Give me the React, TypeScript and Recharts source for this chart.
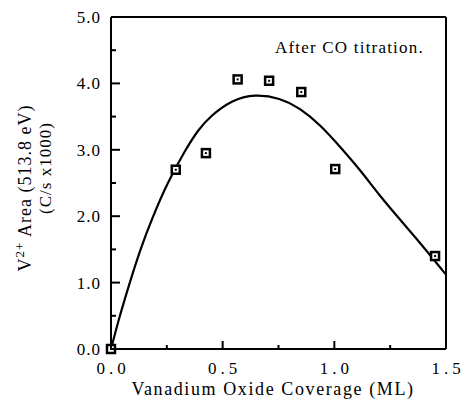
import React from "react";
import {
    ComposedChart, Line, Scatter, XAxis, YAxis, CartesianGrid,
} from "recharts";

// measured points (coverage ML, V2+ area)
const coverage = [0, 0.29, 0.425, 0.567, 0.708, 0.852, 1.004, 1.451];
const area = [0, 2.7, 2.95, 4.06, 4.04, 3.87, 2.71, 1.4];

// fitted curve
const curveX = [0, 0.039, 0.084, 0.131, 0.188, 0.252, 0.333, 0.39, 0.443, 0.54, 0.645, 0.757, 0.846, 0.936, 1.025, 1.115, 1.205, 1.294, 1.384, 1.5];
const curveY = [0, 0.5, 1.0, 1.5, 2.0, 2.5, 3.0, 3.3, 3.5, 3.75, 3.84, 3.78, 3.63, 3.38, 3.05, 2.7, 2.3, 1.95, 1.6, 1.12];

const xTicks = [0, 0.25, 0.5, 0.75, 1.0, 1.25, 1.5];
const yTicks = [0, 0.5, 1, 1.5, 2, 2.5, 3, 3.5, 4, 4.5, 5];

const points = coverage.map((x, i) => ({ x, y: area[i] }));
const curve = curveX.map((x, i) => ({ x, y: curveY[i] }));

const FONT = "Liberation Serif";

const isMajor = (v: number, step: number) => Math.abs(v / step - Math.round(v / step)) < 1e-6;

// tick = inward mark (longer on majors) + label on majors
const XTick = (props: any) => {
    const { x, y, payload } = props;
    const v = payload.value;
    const major = isMajor(v, 0.5);
    return (
        <g>
            <path d={`M${x},${y}V${y - (major ? 8 : 4)}`} stroke="#000" strokeWidth={2} fill="none" />
            {major && (
                <text x={x + 2} y={y + 25} textAnchor="middle" fontFamily={FONT} fontSize={17} letterSpacing={4} fill="#000" stroke="none">
                    {v.toFixed(1)}
                </text>
            )}
        </g>
    );
};

const YTick = (props: any) => {
    const { x, y, payload } = props;
    const v = payload.value;
    const major = isMajor(v, 1);
    return (
        <g>
            <path d={`M${x},${y}H${x + (major ? 9 : 5)}`} stroke="#000" strokeWidth={2} fill="none" />
            {major && (
                <text x={x - 10} y={y + 6} textAnchor="end" fontFamily={FONT} fontSize={17} letterSpacing={1} fill="#000" stroke="none">
                    {v.toFixed(1)}
                </text>
            )}
        </g>
    );
};

const Marker = (props: any) => {
    const { cx, cy } = props;
    return (
        <g>
            <rect x={cx - 4} y={cy - 4} width={8} height={8} fill="#fff" stroke="#000" strokeWidth={2.5} />
            <rect x={cx - 1} y={cy - 1} width={2} height={2} fill="#000" />
        </g>
    );
};

const Texts = () => (
    <g fontFamily={FONT} fill="#000">
        <text x={31} y={188} transform="rotate(-90 31 188)" textAnchor="middle" fontSize={18} letterSpacing={1}>
            V<tspan fontSize={13} dy={-7}>2+</tspan><tspan dy={7}> Area (513.8 eV)</tspan>
        </text>
        <text x={51} y={168} transform="rotate(-90 51 168)" textAnchor="middle" fontSize={17} letterSpacing={1}>
            (C/s x1000)
        </text>
        <text x={273} y={395} textAnchor="middle" fontSize={18} letterSpacing={1.6}>
            Vanadium Oxide Coverage (ML)
        </text>
        <text x={275} y={53} fontSize={17} letterSpacing={1.2}>
            After CO titration.
        </text>
    </g>
);

export default function App() {
    return (
        <div style={{ position: "absolute", left: 0, top: 0, background: "#fff" }}>
            <ComposedChart width={462} height={401} data={curve} margin={{ top: 17, right: 16, bottom: 12, left: 51 }}>
                {/* top and right edges of the box */}
                <CartesianGrid horizontalValues={[5]} verticalValues={[1.5]} stroke="#000" strokeWidth={2} />
                <XAxis
                    dataKey="x" type="number" domain={[0, 1.5]} ticks={xTicks} interval={0}
                    tick={<XTick />} tickLine={false} tickSize={0} tickMargin={0} height={40}
                    stroke="#000" strokeWidth={2}
                />
                <YAxis
                    type="number" domain={[0, 5]} ticks={yTicks} interval={0}
                    tick={<YTick />} tickLine={false} tickSize={0} tickMargin={0} width={60}
                    stroke="#000" strokeWidth={2} label={{ content: <Texts /> }}
                />
                <Line dataKey="y" type="basis" stroke="#000" strokeWidth={2.2} dot={false} isAnimationActive={false} />
                <Scatter data={points} dataKey="y" shape={<Marker />} isAnimationActive={false} />
            </ComposedChart>
        </div>
    );
}
